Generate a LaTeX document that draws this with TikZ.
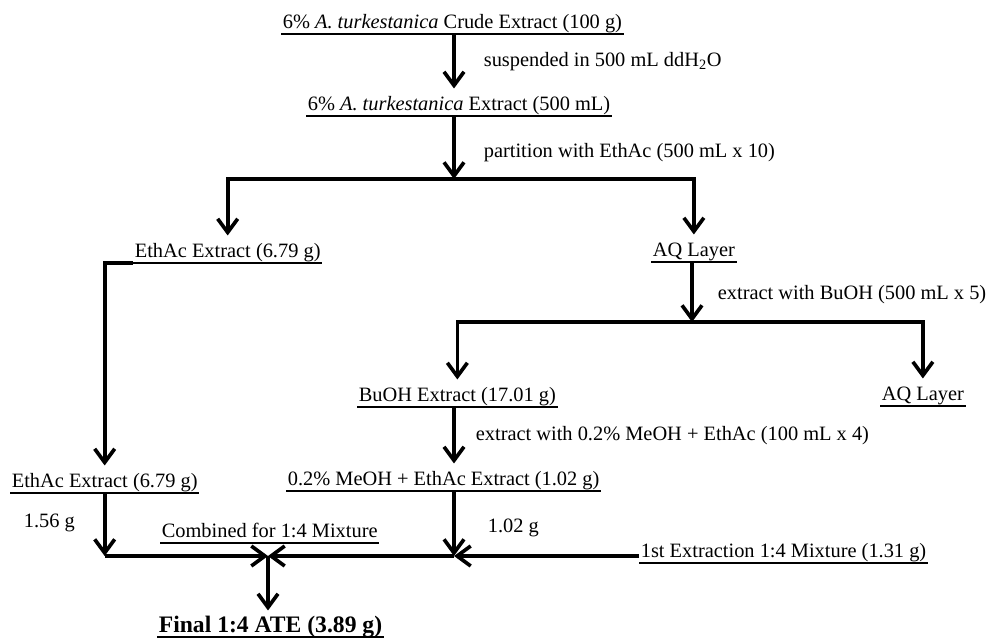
\documentclass[tikz,border=0pt]{standalone}
\usepackage{fontspec}
\setmainfont{Liberation Serif}
\usepackage{tikz}
\usetikzlibrary{arrows.meta}
\tikzset{ulline/.style={line width=1.6pt}}

\begin{document}
\begin{tikzpicture}[x=0.025cm, y=-0.025cm, line width=2.6pt, >={Straight Barb[length=3.4mm,width=5mm]}]
\tikzstyle{every node} = [font=\fontsize{14.5}{17}\selectfont, inner sep=0pt, anchor=base west]
\tikzstyle{item} = [text height=11pt, text depth=2.85pt]
\tikzstyle{finalbox} = [text height=11pt, text depth=2.4pt]
\useasboundingbox (0,0) rectangle (986,638);

% fractions
\node[item] (crude) at (281,28) {6\% \textit{A. turkestanica} Crude Extract (100 g)};
\node[item] (ext) at (306,110) {6\% \textit{A. turkestanica} Extract (500 mL)};
\node[item] (e1) at (133,257) {EthAc Extract (6.79 g)};
\node[item] (aq1) at (651,256) {AQ Layer};
\node[item] (buoh) at (357,401) {BuOH Extract (17.01 g)};
\node[item] (aq2) at (880,400) {AQ Layer};
\node[item] (e2) at (10,487) {EthAc Extract (6.79 g)};
\node[item] (meoh) at (286,485) {0.2\% MeOH + EthAc Extract (1.02 g)};
\node[item] (comb) at (160,537) {Combined for 1:4 Mixture};
\node[item] (first) at (639,557) {1st Extraction 1:4 Mixture (1.31 g)};
\node[finalbox] (final) at (157,632) {\fontsize{16.8}{19}\selectfont\bfseries Final 1:4 ATE (3.89 g)};
\foreach \n in {crude,ext,e1,aq1,buoh,aq2,e2,meoh,comb,first,final}
\draw[ulline] (\n.south west) -- (\n.south east);

% steps
\node (susp) at (482,66) {suspended in 500 mL ddH\textsubscript{2}O};
\node (part) at (482,157) {partition with EthAc (500 mL x 10)};
\node (xbuoh) at (716,299) {extract with BuOH (500 mL x 5)};
\node (xmeoh) at (474,440) {extract with 0.2\% MeOH + EthAc (100 mL x 4)};
\node (w1) at (22,527) {1.56 g};
\node (w2) at (486,532) {1.02 g};

\coordinate (s1) at (454,179);
\coordinate (s2) at (692,322);
\coordinate (mj) at (454,556);
\coordinate (mix) at (268,556);

\draw[->, shorten >=3pt] (crude.south -| s1) -- (ext.north -| s1);
\draw[->] (ext.south -| s1) -- (s1);
\draw[->, shorten >=3pt] (s1) -| (e1.north);
\draw[->, shorten >=3pt] (s1) -| (aq1.north);
\draw[->] (aq1.south -| s2) -- (s2);
\draw[->, shorten >=3pt] (s2) -| (buoh.north);
\draw[->, shorten >=3pt] (s2) -| (aq2.north);
\draw[->, shorten >=3pt] (buoh.south -| mj) -- (meoh.north -| mj);
\draw[->] (meoh.south -| mj) -- (mj);
\draw[->] (first.west |- mj) -- (mj);
\draw[->] (mj) -- (mix);
\draw[->, shorten >=3pt] (e1.south west) -| (e2.north);
\draw[->] (e2.south) -- (e2.south |- mix);
\draw[->] (e2.south |- mix) -- (mix);
\draw[->, shorten >=3pt] (mix) -- (final.north -| mix);
\end{tikzpicture}
\end{document}
